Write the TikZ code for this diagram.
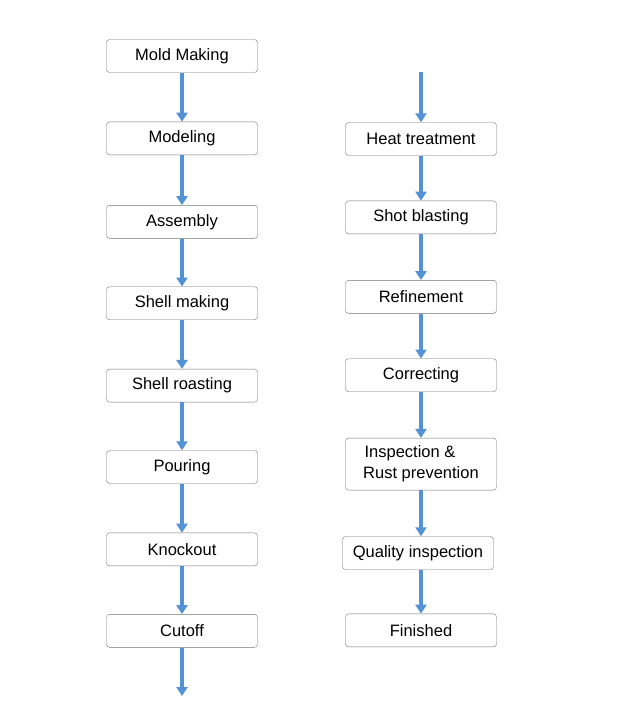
\documentclass[tikz,border=0pt]{standalone}
\usepackage{fontspec}
\setmainfont{Liberation Sans}
\usetikzlibrary{positioning,arrows.meta}
\begin{document}
\begin{tikzpicture}[x=1pt,y=1pt,
    stage/.style={draw=black!55, rounded corners=3pt, minimum width=151pt, minimum height=33pt,
      align=center, font=\fontsize{16.5}{21}\selectfont, inner sep=1pt},
    flow/.style={draw={rgb,255:red,84;green,146;blue,214}, line width=3.2pt,
      -{Triangle[length=9pt,width=11pt]}}]
  \useasboundingbox (0,0) rectangle (621,-720);
  % left column
  \node[stage] (mold) at (182,-56) {Mold Making};
  \node[stage, below=49pt of mold] (model) {Modeling};
  \node[stage, below=50pt of model] (assem) {Assembly};
  \node[stage, below=48pt of assem] (shell) {Shell making};
  \node[stage, below=49pt of shell] (roast) {Shell roasting};
  \node[stage, below=48pt of roast] (pour) {Pouring};
  \node[stage, below=49pt of pour] (knock) {Knockout};
  \node[stage, below=48pt of knock] (cut) {Cutoff};
  \coordinate (lend) at (182,-696);
  % right column
  \coordinate (rstart) at (421,-72);
  \node[stage] (heat) at (421,-139) {Heat treatment};
  \node[stage, below=45pt of heat] (shot) {Shot blasting};
  \node[stage, below=46pt of shot] (refine) {Refinement};
  \node[stage, below=45pt of refine] (correct) {Correcting};
  \node[stage, minimum height=52pt, below=46pt of correct] (rust) {Inspection \&\phantom{ion}\\Rust prevention};
  \node[stage, below=46pt of rust, xshift=-3pt] (qual) {Quality inspection};
  \node[stage, below=44pt of qual, xshift=3pt] (fin) {Finished};
  \foreach \a/\b in {mold/model,model/assem,assem/shell,shell/roast,roast/pour,pour/knock,knock/cut,
      heat/shot,shot/refine,refine/correct,correct/rust}
    \draw[flow] (\a) -- (\b);
  \draw[flow] (cut) -- (lend);
  \draw[flow] (rstart) -- (heat);
  \draw[flow] (rust.south) -- (rust.south |- qual.north);
  \draw[flow] (rust.south |- qual.south) -- (fin);
\end{tikzpicture}
\end{document}
